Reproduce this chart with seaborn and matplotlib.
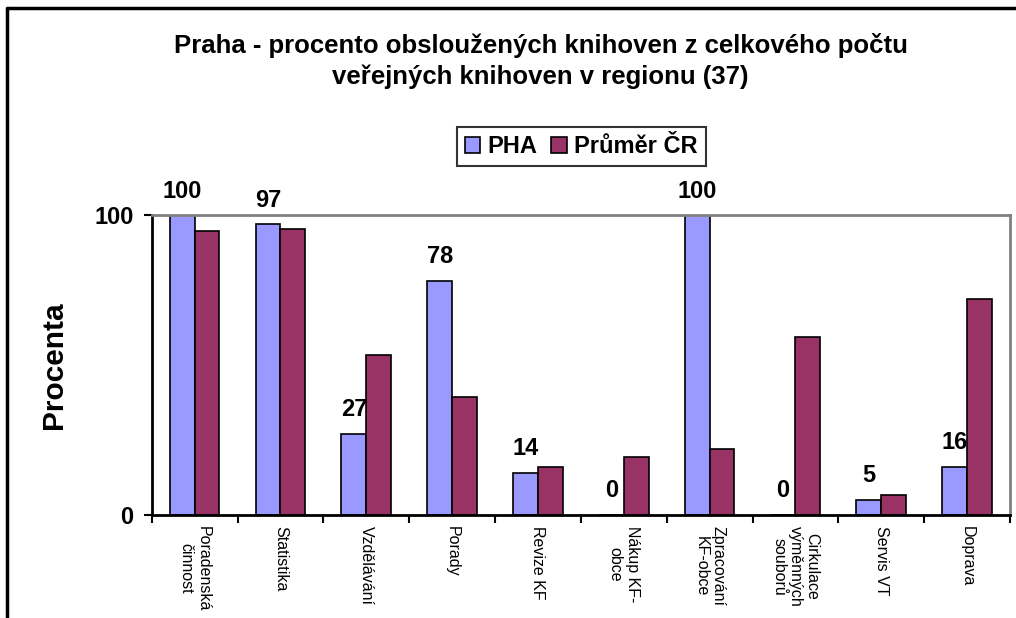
import numpy as np
import pandas as pd
import matplotlib
matplotlib.use("Agg")
import matplotlib.pyplot as plt
from matplotlib.lines import Line2D
import seaborn as sns

categories = ["Poradenská\nčinnost", "Statistika", "Vzdělávání", "Porady", "Revize KF",
              "Nákup KF-\nobce", "Zpracování\nKF-obce", "Cirkulace\nvýměnných\nsouborů",
              "Servis VT", "Doprava"]
pha = [100, 97, 27, 78, 14, 0, 100, 0, 5, 16]
prumer_cr = [94.8, 95.4, 53.3, 39.4, 16.1, 19.4, 22.0, 59.4, 6.8, 72.0]
series = ["PHA", "Průměr ČR"]
colors = ["#9999FF", "#993366"]

df = pd.DataFrame({
    "kat": categories * 2,
    "hodnota": pha + prumer_cr,
    "serie": [series[0]] * len(categories) + [series[1]] * len(categories),
})

sns.set_style("white", {"text.color": "black", "axes.labelcolor": "black",
                        "xtick.color": "black", "ytick.color": "black"})
plt.rcParams["font.family"] = ["Liberation Sans", "DejaVu Sans"]

fig = plt.figure(figsize=(10.16, 6.18), dpi=100)
ax = fig.add_axes([0.1493, 0.1667, 0.8448, 0.4854])

sns.barplot(data=df, x="kat", y="hodnota", hue="serie", palette=colors, saturation=1,
            width=0.58, edgecolor="black", linewidth=1.2, ax=ax, legend=False)

# hodnoty PHA nad modrými sloupci
for p in ax.patches[:len(categories)]:
    x = p.get_x() + p.get_width() / 2
    h = p.get_height()
    ax.annotate(f"{h:.0f}", (x, h), xytext=(0, 9), textcoords="offset points",
                ha="center", va="bottom", fontsize=17, fontweight="bold",
                color="black", annotation_clip=False)

ax.set_xlim(-0.5, len(categories) - 0.5)
ax.set_ylim(0, 100)
ax.set_yticks([0, 100])
ax.set_yticklabels(["0", "100"], fontsize=17, fontweight="bold")
ax.set_xticks(np.arange(-0.5, len(categories), 1))
ax.set_xticklabels([""] * (len(categories) + 1))
ax.set_xticks(np.arange(len(categories)), minor=True)
ax.set_xticklabels(categories, minor=True, rotation=270, fontsize=11.5,
                   ha="center", va="top", linespacing=1.15)
ax.tick_params(axis="x", which="major", direction="out", length=6, width=1.5, color="black", bottom=True)
ax.tick_params(axis="x", which="minor", length=0, pad=8, bottom=True, labelcolor="black")
ax.tick_params(axis="y", direction="out", length=6, width=1.5, color="black", left=True, pad=7,
               labelcolor="black")
ax.set_xlabel("")
ax.set_ylabel("Procenta", fontsize=21.5, fontweight="bold", color="black")
ax.yaxis.set_label_coords(-0.097, 0.5)

for s in ["left", "bottom"]:
    ax.spines[s].set_color("black")
    ax.spines[s].set_linewidth(2)
for s in ["top", "right"]:
    ax.spines[s].set_visible(True)
    ax.spines[s].set_color("#808080")
    ax.spines[s].set_linewidth(2)

fig.suptitle("Praha - procento obsloužených knihoven z celkového počtu\nveřejných knihoven v regionu (37)",
             x=0.532, y=0.947, fontsize=18.5, fontweight="bold", linespacing=1.35, color="black")

handles = [plt.Rectangle((0, 0), 1, 1, facecolor=c, edgecolor="black", linewidth=1.2) for c in colors]
leg = fig.legend(handles, series, loc="center", bbox_to_anchor=(0.572, 0.763), ncol=2,
                 prop={"weight": "bold", "size": 17}, frameon=True, fancybox=False,
                 handlelength=0.65, handleheight=0.65, handletextpad=0.3, columnspacing=0.6,
                 borderpad=0.35, edgecolor="black", labelcolor="black")
leg.get_frame().set_linewidth(1.5)

# ramecek grafu (jen vlevo a nahore, zbytek je oriznuty)
fig.add_artist(Line2D([7 / 1016, 7 / 1016], [0, 1 - 8 / 618], color="black", linewidth=2.5))
fig.add_artist(Line2D([7 / 1016, 1], [1 - 8 / 618, 1 - 8 / 618], color="black", linewidth=2.5))

fig.savefig("out.png", dpi=100)
